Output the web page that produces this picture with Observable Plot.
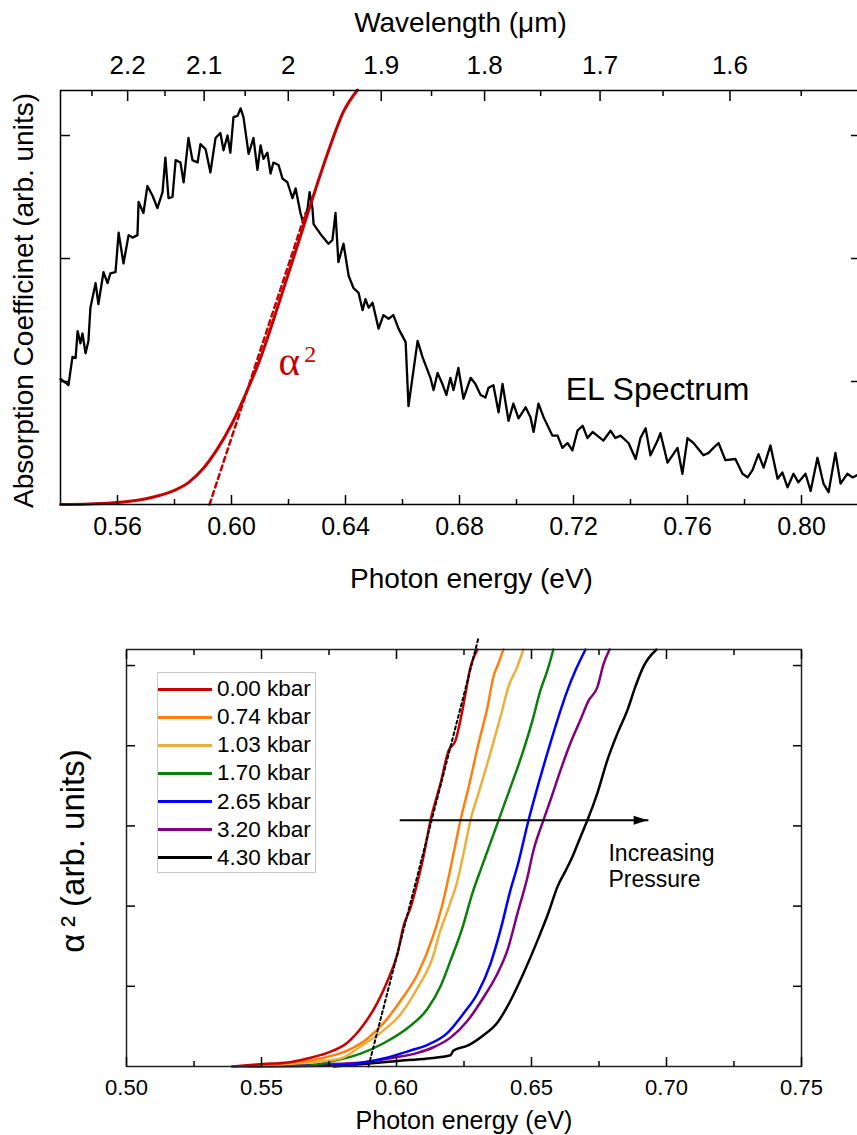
<!DOCTYPE html>
<html><head><meta charset="utf-8">
<script src="https://cdn.jsdelivr.net/npm/d3@7"></script>
<script src="https://cdn.jsdelivr.net/npm/@observablehq/plot@0.6"></script>
<style>
body{margin:0;background:#fff;overflow:hidden}
#wrap{position:relative;width:857px;height:1135px;overflow:hidden;font-family:'Liberation Sans',Arial,sans-serif;background:#fff}
#wrap svg{display:block}
#legend{position:absolute;left:157px;top:672px;width:159px;height:201px;border:1px solid #c8c8c8;background:#fff;box-sizing:border-box}
.row{position:absolute;left:0;height:28px;display:flex;align-items:center;font-size:22.5px;color:#000;white-space:nowrap}
.sw{width:54px;height:3px;margin-right:5px}
</style></head>
<body>
<div id="wrap"><div id="top"></div><div id="bot"></div><div id="legend"></div></div>
<script>
// ---------- Top panel data ----------
const HC = 1.23984; // eV·µm
const elSpectrum = [
[0.5400,1.02],[0.5418,0.99],[0.5428,0.97],[0.5442,1.20],[0.5453,1.19],[0.5460,1.41],[0.5470,1.31],[0.5477,1.39],
[0.5488,1.23],[0.5498,1.33],[0.5505,1.60],[0.5523,1.80],[0.5533,1.63],[0.5551,1.89],[0.5565,1.80],[0.5575,1.88],
[0.5593,1.89],[0.5604,2.21],[0.5621,1.96],[0.5639,2.19],[0.5653,2.17],[0.5670,2.19],[0.5674,2.46],[0.5691,2.37],
[0.5705,2.59],[0.5723,2.51],[0.5740,2.41],[0.5758,2.54],[0.5768,2.82],[0.5779,2.49],[0.5793,2.50],[0.5804,2.80],
[0.5821,2.78],[0.5832,2.62],[0.5849,2.98],[0.5863,2.80],[0.5881,2.78],[0.5891,2.93],[0.5909,2.89],[0.5926,2.70],
[0.5944,2.98],[0.5961,3.02],[0.5972,2.88],[0.5986,3.00],[0.5996,2.86],[0.6007,3.15],[0.6021,3.16],[0.6032,3.22],
[0.6042,3.15],[0.6060,2.85],[0.6077,2.98],[0.6091,2.72],[0.6102,2.92],[0.6112,2.81],[0.6126,2.86],[0.6137,2.69],
[0.6147,2.78],[0.6165,2.76],[0.6179,2.65],[0.6196,2.62],[0.6214,2.49],[0.6225,2.57],[0.6242,2.37],[0.6253,2.28],
[0.6267,2.41],[0.6274,2.54],[0.6284,2.41],[0.6288,2.28],[0.6312,2.20],[0.6340,2.12],[0.6354,2.15],[0.6365,2.37],
[0.6375,1.97],[0.6393,2.12],[0.6411,1.86],[0.6428,1.76],[0.6446,1.72],[0.6460,1.58],[0.6470,1.67],[0.6481,1.60],
[0.6495,1.64],[0.6516,1.43],[0.6533,1.54],[0.6551,1.51],[0.6568,1.54],[0.6586,1.43],[0.6611,1.32],[0.6621,0.80],
[0.6653,1.33],[0.6670,1.20],[0.6688,1.09],[0.6698,1.03],[0.6709,0.93],[0.6723,1.07],[0.6740,0.98],[0.6754,0.89],
[0.6768,1.03],[0.6779,0.93],[0.6796,1.11],[0.6814,0.86],[0.6839,1.03],[0.6856,0.98],[0.6874,0.89],[0.6891,0.87],
[0.6902,0.95],[0.6919,0.97],[0.6937,0.75],[0.6951,0.98],[0.6972,0.68],[0.6989,0.82],[0.7007,0.70],[0.7032,0.79],
[0.7049,0.71],[0.7060,0.59],[0.7077,0.82],[0.7095,0.71],[0.7126,0.56],[0.7144,0.56],[0.7161,0.46],[0.7179,0.50],
[0.7196,0.44],[0.7214,0.60],[0.7232,0.64],[0.7249,0.54],[0.7267,0.59],[0.7305,0.52],[0.7330,0.60],[0.7347,0.54],
[0.7365,0.56],[0.7393,0.50],[0.7418,0.37],[0.7435,0.54],[0.7453,0.62],[0.7470,0.40],[0.7495,0.52],[0.7505,0.58],
[0.7530,0.34],[0.7565,0.46],[0.7582,0.25],[0.7600,0.54],[0.7621,0.50],[0.7656,0.40],[0.7674,0.42],[0.7691,0.46],
[0.7709,0.50],[0.7733,0.36],[0.7768,0.37],[0.7793,0.25],[0.7811,0.22],[0.7828,0.28],[0.7849,0.41],[0.7867,0.30],
[0.7891,0.48],[0.7916,0.21],[0.7933,0.26],[0.7951,0.14],[0.7972,0.25],[0.7989,0.18],[0.8014,0.25],[0.8032,0.11],
[0.8056,0.38],[0.8077,0.17],[0.8095,0.10],[0.8119,0.42],[0.8137,0.17],[0.8161,0.25],[0.8179,0.22],[0.8196,0.24],[0.8207,0.23]
];
const alphaSq = [
[0.540,0.00],[0.550,0.005],[0.560,0.016],[0.565,0.028],[0.570,0.047],[0.575,0.075],[0.580,0.115],[0.585,0.18],
[0.590,0.29],[0.595,0.45],[0.600,0.65],[0.605,0.90],[0.610,1.18],[0.615,1.52],[0.620,1.88],[0.625,2.24],
[0.630,2.60],[0.635,2.94],[0.639,3.18],[0.6442,3.37]
];
const alphaFit = [[0.5923,0.00],[0.6260,2.37]];
const energyTicksTop = [0.56,0.60,0.64,0.68,0.72,0.76,0.80];
const energyMinorTop = [0.58,0.62,0.66,0.70,0.74,0.78];
const wavelengthTicks = [2.2,2.1,2.0,1.9,1.8,1.7,1.6];
const wavelengthMinor = [2.25,2.15,2.05,1.95,1.85,1.75,1.65,1.55];
const yTicksTop = [1,2,3];
const elLabel = [{e:0.7495, v:0.935, t:"EL Spectrum"}];
const alphaLabel = [{e:0.6165, v:1.05, t:"α"}];
const alphaSup = [{e:0.6255, v:1.16, t:"2"}];

// ---------- Bottom panel data ----------
const pressures = ["0.00 kbar","0.74 kbar","1.03 kbar","1.70 kbar","2.65 kbar","3.20 kbar","4.30 kbar"];
const colors = ["#cc0000","#ff7f0e","#ebb03c","#0a800a","#0000ff","#800080","#000000"];
const p000 = [[0.5393,0],[0.5504,0.03],[0.5596,0.05],[0.5670,0.10],[0.5744,0.17],[0.5819,0.30],[0.5878,0.52],[0.5930,0.80],[0.5967,1.07],[0.6004,1.41],[0.6026,1.75],[0.6052,1.98],[0.6078,2.30],[0.6100,2.62],[0.6126,3.07],[0.6163,3.53],[0.6193,3.94],[0.6219,4.07],[0.6244,4.44],[0.6256,4.66],[0.6274,4.98],[0.6300,5.20]];
const p074 = [[0.5393,0],[0.5596,0.04],[0.5719,0.10],[0.5819,0.20],[0.5893,0.35],[0.5952,0.54],[0.6015,0.82],[0.6078,1.15],[0.6133,1.60],[0.6170,2.02],[0.6200,2.47],[0.6237,3.07],[0.6267,3.48],[0.6304,4.03],[0.6337,4.48],[0.6359,4.86],[0.6378,5.03],[0.6396,5.20]];
const p103 = [[0.5393,0],[0.5596,0.03],[0.5793,0.10],[0.5867,0.25],[0.5952,0.45],[0.6015,0.65],[0.6078,0.98],[0.6133,1.35],[0.6163,1.70],[0.6193,1.98],[0.6226,2.32],[0.6248,2.65],[0.6274,3.07],[0.6304,3.41],[0.6348,3.91],[0.6385,4.36],[0.6415,4.74],[0.6448,4.99],[0.6470,5.20]];
const p170 = [[0.5393,0],[0.5670,0.01],[0.5767,0.07],[0.5867,0.16],[0.5952,0.29],[0.6041,0.48],[0.6115,0.72],[0.6163,1.00],[0.6200,1.32],[0.6244,1.73],[0.6281,2.16],[0.6319,2.52],[0.6378,3.07],[0.6422,3.48],[0.6467,3.91],[0.6504,4.32],[0.6533,4.69],[0.6559,4.94],[0.6581,5.20]];
const p265 = [[0.5393,0],[0.5767,0.01],[0.5952,0.10],[0.6052,0.20],[0.6115,0.27],[0.6189,0.42],[0.6248,0.66],[0.6300,0.91],[0.6348,1.28],[0.6385,1.70],[0.6422,2.20],[0.6448,2.50],[0.6489,3.07],[0.6522,3.48],[0.6559,3.91],[0.6596,4.32],[0.6633,4.69],[0.6663,4.94],[0.6700,5.20]];
const p320 = [[0.5393,0],[0.5830,0.04],[0.5989,0.11],[0.6078,0.17],[0.6137,0.24],[0.6200,0.36],[0.6263,0.57],[0.6322,0.86],[0.6374,1.16],[0.6411,1.45],[0.6448,1.91],[0.6485,2.36],[0.6507,2.69],[0.6544,3.07],[0.6570,3.32],[0.6607,3.69],[0.6644,4.03],[0.6681,4.32],[0.6711,4.56],[0.6744,4.73],[0.6767,5.02],[0.6789,5.20]];
const p430 = [[0.5767,0],[0.6004,0.07],[0.6115,0.10],[0.6200,0.14],[0.6211,0.20],[0.6263,0.26],[0.6322,0.39],[0.6374,0.55],[0.6422,0.82],[0.6470,1.16],[0.6522,1.57],[0.6563,1.92],[0.6596,2.24],[0.6626,2.44],[0.6652,2.62],[0.6681,2.86],[0.6707,3.07],[0.6744,3.41],[0.6781,3.82],[0.6819,4.16],[0.6856,4.45],[0.6885,4.74],[0.6915,4.99],[0.6963,5.20]];
const seriesData = [p000,p074,p103,p170,p265,p320,p430];
const linearFit = [[0.5896,0],[0.6304,5.35]];
const arrowEnergy = [0.6015,0.693];
const arrowLevel = 3.07;
const pressureNote = [{e:0.6785, v:2.79, t:"Increasing\nPressure"}];
const energyTicksBot = [0.50,0.55,0.60,0.65,0.70,0.75];
const energyMinorBot = [0.525,0.575,0.625,0.675,0.725];
const yTicksBot = [1,2,3,4,5];

const FONT = "'Liberation Sans', Arial, sans-serif";
const SERIF = "'Liberation Serif', 'Times New Roman', serif";
const fmt2 = d3.format(".2f");
const blank = () => "";
const wlFmt = d => String(+(HC / d).toFixed(2));

// ---------- Top panel ----------
const topPlot = Plot.plot({
  width: 857, height: 600,
  marginTop: 90, marginBottom: 96, marginLeft: 60, marginRight: -3,
  x: {domain: [0.54, 0.8207]},
  y: {domain: [0, 3.366]},
  style: {fontFamily: FONT, background: "white", color: "black"},
  marks: [
    Plot.line(elSpectrum, {x: d => d[0], y: d => d[1], stroke: "black", strokeWidth: 2.3}),
    Plot.line(alphaFit, {x: d => d[0], y: d => d[1], stroke: "#c80000", strokeWidth: 2.5, strokeDasharray: "5,4"}),
    Plot.line(alphaSq, {x: d => d[0], y: d => d[1], stroke: "#c80000", strokeWidth: 3, curve: "monotone-x"}),
    Plot.frame({stroke: "black", strokeWidth: 1.5}),
    Plot.axisX({anchor: "bottom", ticks: energyTicksTop, tickSize: 0, tickPadding: 13, tickFormat: fmt2, fontSize: 25, label: null}),
    Plot.axisX({anchor: "bottom", ticks: energyTicksTop, tickSize: -9, tickFormat: blank, label: null, strokeWidth: 1.5}),
    Plot.axisX({anchor: "bottom", ticks: energyMinorTop, tickSize: -5, tickFormat: blank, label: null, strokeWidth: 1.5}),
    Plot.axisX({anchor: "top", ticks: wavelengthTicks.map(w => HC / w), tickSize: 0, tickPadding: 17, tickFormat: wlFmt, fontSize: 26, label: null}),
    Plot.axisX({anchor: "top", ticks: wavelengthTicks.map(w => HC / w), tickSize: -10, tickFormat: blank, label: null, strokeWidth: 1.5}),
    Plot.axisX({anchor: "top", ticks: wavelengthMinor.map(w => HC / w), tickSize: -5, tickFormat: blank, label: null, strokeWidth: 1.5}),
    Plot.axisY({anchor: "left", ticks: yTicksTop, tickSize: -10, tickFormat: blank, label: null, strokeWidth: 1.5}),
    Plot.axisY({anchor: "right", ticks: yTicksTop, tickSize: -10, tickFormat: blank, label: null, strokeWidth: 1.5}),
    Plot.text(["Wavelength (μm)"], {frameAnchor: "top", dy: -78, lineAnchor: "top", fontSize: 28}),
    Plot.text(["Photon energy (eV)"], {frameAnchor: "bottom", dx: 11, dy: 83, lineAnchor: "bottom", fontSize: 28}),
    Plot.text(["Absorption Coefficinet (arb. units)"], {frameAnchor: "left", dx: -47, dy: 3, rotate: -90, textAnchor: "middle", lineAnchor: "top", fontSize: 28}),
    Plot.text(elLabel, {x: "e", y: "v", text: "t", fontSize: 32, lineAnchor: "middle"}),
    Plot.text(alphaLabel, {x: "e", y: "v", text: "t", fontSize: 41, fontFamily: SERIF, fill: "#c80000", textAnchor: "start", lineAnchor: "bottom"}),
    Plot.text(alphaSup, {x: "e", y: "v", text: "t", fontSize: 24, fontFamily: SERIF, fill: "#c80000", textAnchor: "start", lineAnchor: "bottom"})
  ]
});
document.getElementById("top").append(topPlot);

// ---------- Bottom panel ----------
const rows = [];
seriesData.forEach((s, i) => s.forEach(([e, v]) => rows.push({e, v, p: pressures[i]})));
const drawOrder = pressures.slice().reverse();
const arrowHead = {draw(ctx) { ctx.moveTo(0, 0); ctx.lineTo(-14, -4.5); ctx.lineTo(-14, 4.5); ctx.closePath(); }};

const botPlot = Plot.plot({
  width: 857, height: 535,
  marginTop: 49, marginBottom: 69, marginLeft: 126, marginRight: 56,
  x: {domain: [0.5, 0.75]},
  y: {domain: [0, 5.2]},
  color: {domain: pressures, range: colors},
  style: {fontFamily: FONT, background: "white", color: "black"},
  marks: [
    ...drawOrder.map(p => Plot.line(rows.filter(r => r.p === p), {x: "e", y: "v", stroke: "p", strokeWidth: 2.5, curve: "monotone-x"})),
    Plot.line(linearFit, {x: d => d[0], y: d => d[1], stroke: "black", strokeWidth: 2, strokeDasharray: "3,3"}),
    Plot.line(arrowEnergy, {x: d => d, y: () => arrowLevel, stroke: "black", strokeWidth: 2}),
    Plot.dot([arrowEnergy[1]], {x: d => d, y: () => arrowLevel, symbol: arrowHead, fill: "black", stroke: "none", r: 5}),
    Plot.text(pressureNote, {x: "e", y: "v", text: "t", fontSize: 23, textAnchor: "start", lineAnchor: "top", lineHeight: 1.13}),
    Plot.frame({stroke: "#222", strokeWidth: 1.5}),
    Plot.axisX({anchor: "bottom", ticks: energyTicksBot, tickSize: 0, tickPadding: 13, tickFormat: fmt2, fontSize: 22, label: null}),
    Plot.axisX({anchor: "bottom", ticks: energyTicksBot, tickSize: -9, tickFormat: blank, label: null, strokeWidth: 1.5}),
    Plot.axisX({anchor: "bottom", ticks: energyMinorBot, tickSize: -5, tickFormat: blank, label: null, strokeWidth: 1.5}),
    Plot.axisX({anchor: "top", ticks: energyTicksBot, tickSize: -9, tickFormat: blank, label: null, strokeWidth: 1.5}),
    Plot.axisX({anchor: "top", ticks: energyMinorBot, tickSize: -5, tickFormat: blank, label: null, strokeWidth: 1.5}),
    Plot.axisY({anchor: "left", ticks: yTicksBot, tickSize: -9, tickFormat: blank, label: null, strokeWidth: 1.5}),
    Plot.axisY({anchor: "right", ticks: yTicksBot, tickSize: -9, tickFormat: blank, label: null, strokeWidth: 1.5}),
    Plot.text(["Photon energy (eV)"], {frameAnchor: "bottom", dy: 62, lineAnchor: "bottom", fontSize: 25}),
    Plot.text(["α\u2009² (arb. units)"], {frameAnchor: "left", dx: -66, dy: -7, rotate: -90, textAnchor: "middle", lineAnchor: "top", fontSize: 33})
  ]
});
document.getElementById("bot").append(botPlot);

// ---------- Legend ----------
const legend = document.getElementById("legend");
pressures.forEach((p, i) => {
  const row = document.createElement("div");
  row.className = "row";
  row.style.top = (2 + i * 28.15) + "px";
  const sw = document.createElement("span");
  sw.className = "sw";
  sw.style.background = colors[i];
  const tx = document.createElement("span");
  tx.textContent = p;
  row.append(sw, tx);
  legend.append(row);
});
</script>
</body></html>
